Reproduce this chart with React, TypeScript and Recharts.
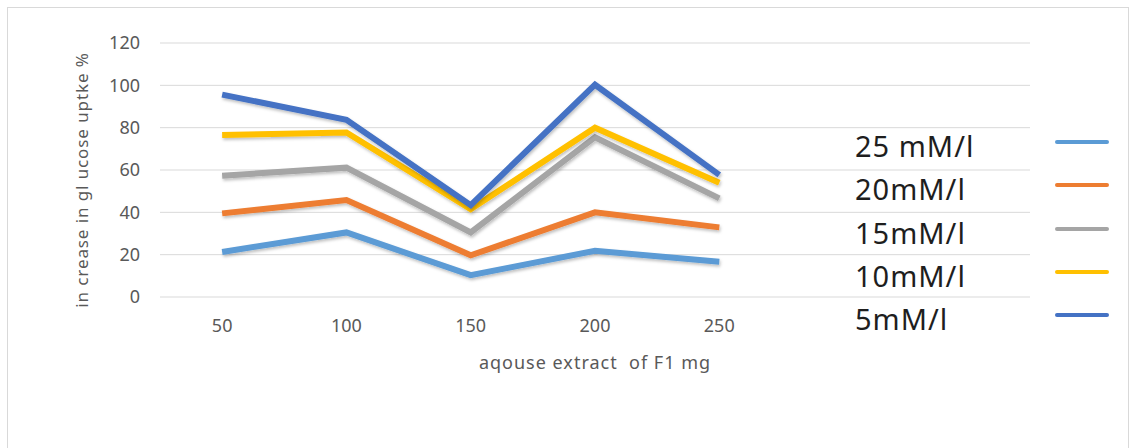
import React from 'react';
import {
  LineChart,
  Line,
  XAxis,
  YAxis,
  CartesianGrid,
  Legend,
  Label,
} from 'recharts';

// doses (mg) and % increase in glucose uptake per glucose concentration
const doses = [50, 100, 150, 200, 250];
const yTicks = [0, 20, 40, 60, 80, 100, 120];

const uptake25 = [21.3, 30.5, 10.3, 21.8, 16.6];
const uptake20 = [39.5, 45.8, 19.7, 40, 32.9];
const uptake15 = [57.3, 61.1, 30.5, 75.5, 46.6];
const uptake10 = [76.5, 77.7, 41.5, 80, 54];
const uptake5 = [95.6, 83.7, 43.4, 100.3, 57.7];

const series = [
  { key: 'c25', name: '25 mM/l', color: '#5b9bd5', values: uptake25 },
  { key: 'c20', name: '20mM/l', color: '#ed7d31', values: uptake20 },
  { key: 'c15', name: '15mM/l', color: '#a5a5a5', values: uptake15 },
  { key: 'c10', name: '10mM/l', color: '#ffc000', values: uptake10 },
  { key: 'c5', name: '5mM/l', color: '#4472c4', values: uptake5 },
];

const rows = doses.map((dose, i) => {
  const row: Record<string, number> = { dose };
  series.forEach((s) => {
    row[s.key] = s.values[i];
  });
  return row;
});

const FONT = '"Noto Sans", sans-serif';
const AXIS_GREY = '#595959';

const seriesOrder = (name: string) => series.findIndex((s) => s.name === name);

const renderLegend = ({ payload }: any) => {
  const items = [...(payload || [])].sort((a, b) => seriesOrder(a.value) - seriesOrder(b.value));
  return (
    <div style={{ fontFamily: FONT }}>
      {items.map((entry: any) => (
        <div key={entry.value} style={{ position: 'relative', height: 43.3 }}>
          <span
            style={{
              position: 'absolute',
              left: 0,
              top: 7,
              fontSize: 29,
              letterSpacing: 1,
              lineHeight: '38px',
              color: '#1e1e1e',
              whiteSpace: 'nowrap',
            }}
          >
            {entry.value}
          </span>
          <span
            style={{
              position: 'absolute',
              left: 200,
              top: 20,
              width: 54,
              height: 4,
              borderRadius: 2,
              background: entry.color,
            }}
          />
        </div>
      ))}
    </div>
  );
};

export default function App() {
  return (
    <div style={{ position: 'relative', width: 1131, height: 448, overflow: 'hidden' }}>
      <style>{'body{margin:0}'}</style>
      <div
        style={{
          position: 'absolute',
          left: 7,
          top: 7,
          width: 1120,
          height: 470,
          border: '1px solid #d9d9d9',
        }}
      />
      <LineChart
        width={1131}
        height={448}
        data={rows}
        margin={{ top: 43, right: 101, bottom: 121, left: 100 }}
        style={{ position: 'absolute', left: 0, top: 0 }}
      >
        <defs>
          <filter id="lineShadow" x="-10%" y="-20%" width="120%" height="140%">
            <feDropShadow dx="1" dy="2" stdDeviation="1.5" floodColor="#000" floodOpacity="0.25" />
          </filter>
        </defs>
        <CartesianGrid vertical={false} stroke="#d9d9d9" strokeWidth={1} />
        <XAxis
          dataKey="dose"
          type="number"
          domain={[25, 375]}
          ticks={doses}
          height={30}
          axisLine={false}
          tickLine={false}
          tickMargin={16}
          tick={{ fill: AXIS_GREY, fontSize: 18, fontFamily: FONT }}
        >
          <Label
            content={({ viewBox }: any) => (
              <text
                x={viewBox.x + viewBox.width / 2}
                y={viewBox.y + viewBox.height + 42}
                textAnchor="middle"
                fill={AXIS_GREY}
                fontSize={18}
                letterSpacing={1}
                fontFamily={FONT}
                style={{ whiteSpace: 'pre' }}
              >
                aqouse extract  of F1 mg
              </text>
            )}
          />
        </XAxis>
        <YAxis
          domain={[0, 120]}
          ticks={yTicks}
          width={60}
          axisLine={false}
          tickLine={false}
          tickMargin={14}
          tick={{ fill: AXIS_GREY, fontSize: 18, fontFamily: FONT }}
        >
          <Label
            content={() => (
              <text
                x={0}
                y={0}
                transform="translate(88, 180) rotate(-90)"
                textAnchor="middle"
                fill={AXIS_GREY}
                fontSize={17}
                letterSpacing={0.9}
                fontFamily={FONT}
              >
                in crease in gl ucose uptke %
              </text>
            )}
          />
        </YAxis>
        {series.map((s) => (
          <Line
            key={s.key}
            dataKey={s.key}
            name={s.name}
            type="linear"
            stroke={s.color}
            strokeWidth={6}
            dot={false}
            activeDot={false}
            filter="url(#lineShadow)"
            isAnimationActive={false}
          />
        ))}
        <Legend
          layout="horizontal"
          align="center"
          verticalAlign="middle"
          content={renderLegend}
          wrapperStyle={{ left: 855, top: 120, width: 270, height: 220 }}
        />
      </LineChart>
    </div>
  );
}
